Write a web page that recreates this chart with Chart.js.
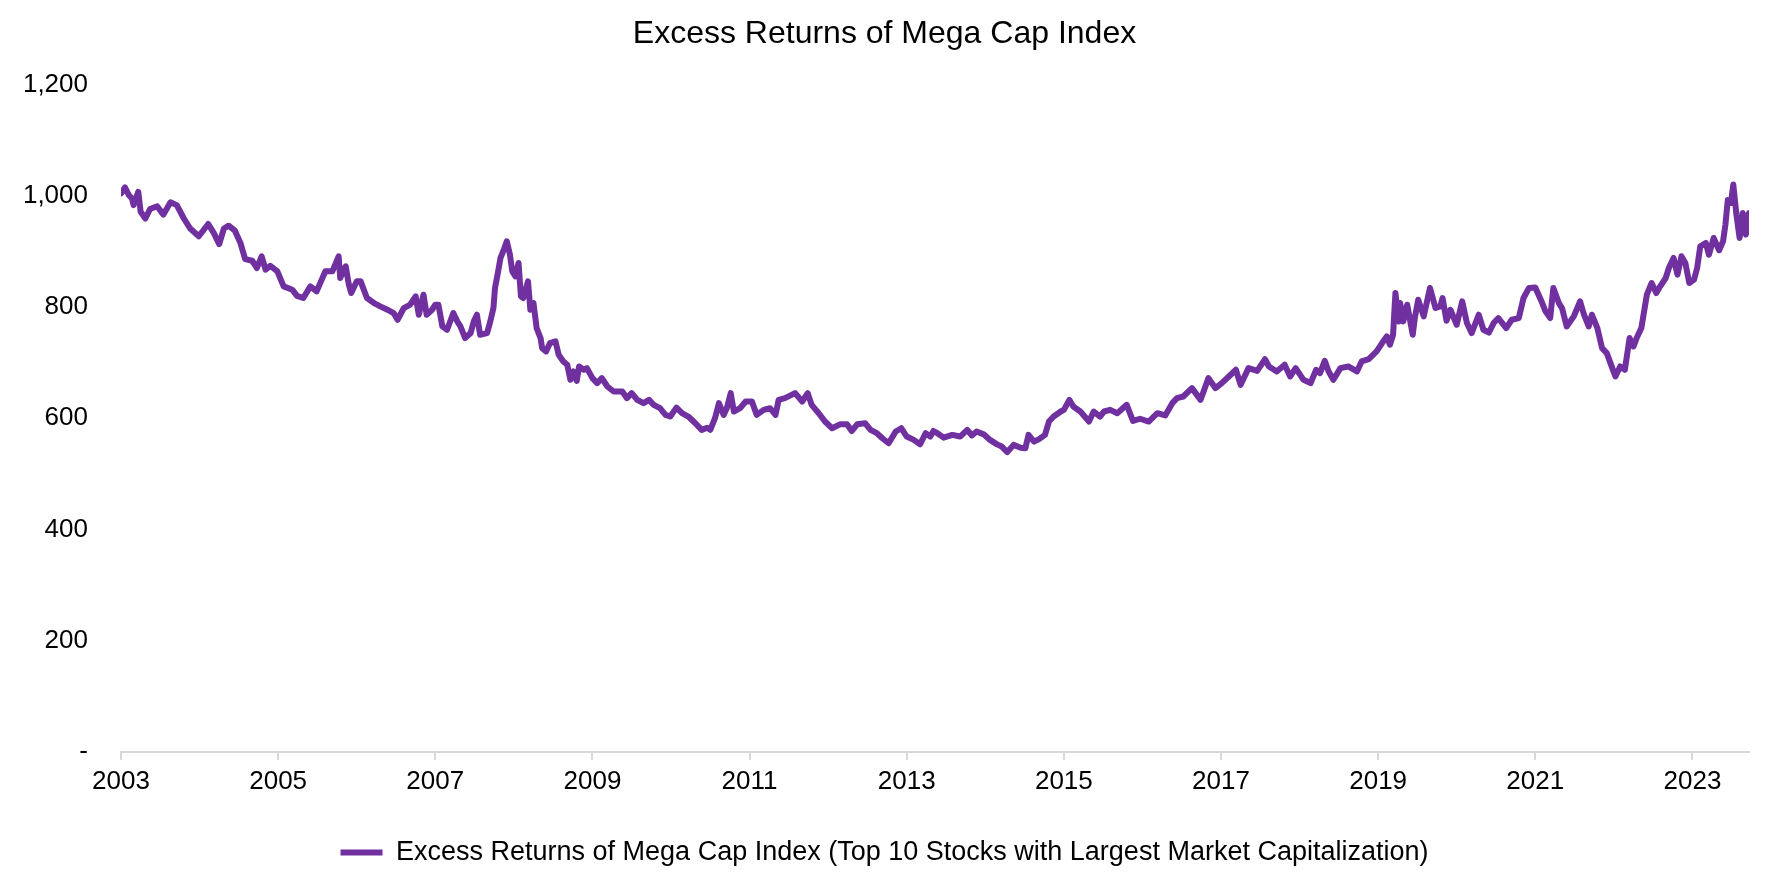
<!DOCTYPE html>
<html>
<head>
<meta charset="utf-8">
<script src="https://cdn.jsdelivr.net/npm/chart.js@4.4.1/dist/chart.umd.min.js"></script>
<style>
  html, body { margin: 0; padding: 0; background: #fff; }
  #wrap { width: 1773px; height: 886px; }
</style>
</head>
<body>
<div id="wrap"><canvas id="chart" width="1773" height="886"></canvas></div>
<script>
const chartTitle = 'Excess Returns of Mega Cap Index';
const seriesLabel = 'Excess Returns of Mega Cap Index (Top 10 Stocks with Largest Market Capitalization)';

// fractional year of each reading
const years = [
  2003.00, 2003.05, 2003.10, 2003.14, 2003.16, 2003.22, 2003.25, 2003.31, 2003.37, 2003.46,
  2003.54, 2003.63, 2003.71, 2003.80, 2003.88, 2003.99, 2004.11, 2004.18, 2004.25, 2004.31,
  2004.37, 2004.45, 2004.52, 2004.58, 2004.67, 2004.73, 2004.79, 2004.84, 2004.90, 2004.99,
  2005.07, 2005.18, 2005.24, 2005.32, 2005.41, 2005.49, 2005.60, 2005.69, 2005.77, 2005.79,
  2005.86, 2005.90, 2005.93, 2006.00, 2006.05, 2006.13, 2006.22, 2006.30, 2006.39, 2006.47,
  2006.52, 2006.60, 2006.68, 2006.75, 2006.79, 2006.85, 2006.89, 2006.96, 2007.00, 2007.04,
  2007.09, 2007.15, 2007.23, 2007.28, 2007.32, 2007.38, 2007.45, 2007.49, 2007.53, 2007.57,
  2007.66, 2007.70, 2007.74, 2007.76, 2007.80, 2007.83, 2007.87, 2007.91, 2007.95, 2007.98,
  2008.02, 2008.06, 2008.09, 2008.12, 2008.18, 2008.21, 2008.25, 2008.29, 2008.34, 2008.36,
  2008.41, 2008.46, 2008.53, 2008.57, 2008.63, 2008.68, 2008.72, 2008.76, 2008.80, 2008.83,
  2008.89, 2008.93, 2009.00, 2009.06, 2009.12, 2009.19, 2009.27, 2009.38, 2009.44, 2009.50,
  2009.57, 2009.65, 2009.72, 2009.78, 2009.86, 2009.93, 2009.99, 2010.07, 2010.14, 2010.22,
  2010.31, 2010.39, 2010.46, 2010.50, 2010.56, 2010.61, 2010.67, 2010.71, 2010.76, 2010.80,
  2010.88, 2010.95, 2011.03, 2011.09, 2011.18, 2011.26, 2011.33, 2011.37, 2011.45, 2011.58,
  2011.67, 2011.74, 2011.79, 2011.88, 2011.96, 2012.05, 2012.15, 2012.24, 2012.30, 2012.37,
  2012.47, 2012.54, 2012.62, 2012.69, 2012.77, 2012.86, 2012.93, 2013.00, 2013.09, 2013.17,
  2013.24, 2013.30, 2013.34, 2013.39, 2013.47, 2013.58, 2013.68, 2013.77, 2013.83, 2013.89,
  2013.98, 2014.06, 2014.15, 2014.21, 2014.28, 2014.36, 2014.45, 2014.51, 2014.55, 2014.62,
  2014.68, 2014.76, 2014.81, 2014.87, 2014.96, 2015.00, 2015.07, 2015.12, 2015.21, 2015.32,
  2015.38, 2015.46, 2015.51, 2015.59, 2015.68, 2015.80, 2015.88, 2015.97, 2016.08, 2016.19,
  2016.29, 2016.38, 2016.44, 2016.52, 2016.63, 2016.74, 2016.84, 2016.93, 2017.01, 2017.10,
  2017.19, 2017.25, 2017.35, 2017.46, 2017.56, 2017.61, 2017.71, 2017.81, 2017.88, 2017.95,
  2018.05, 2018.14, 2018.21, 2018.26, 2018.32, 2018.37, 2018.43, 2018.52, 2018.62, 2018.73,
  2018.79, 2018.88, 2018.98, 2019.05, 2019.11, 2019.15, 2019.19, 2019.22, 2019.26, 2019.28,
  2019.32, 2019.37, 2019.44, 2019.47, 2019.51, 2019.58, 2019.66, 2019.73, 2019.79, 2019.82,
  2019.87, 2019.92, 2020.00, 2020.07, 2020.13, 2020.19, 2020.28, 2020.34, 2020.41, 2020.47,
  2020.53, 2020.63, 2020.70, 2020.79, 2020.85, 2020.92, 2021.00, 2021.07, 2021.13, 2021.19,
  2021.23, 2021.30, 2021.34, 2021.40, 2021.49, 2021.57, 2021.62, 2021.68, 2021.72, 2021.79,
  2021.85, 2021.91, 2021.98, 2022.02, 2022.08, 2022.14, 2022.20, 2022.25, 2022.29, 2022.35,
  2022.42, 2022.48, 2022.54, 2022.59, 2022.66, 2022.70, 2022.76, 2022.81, 2022.86, 2022.91,
  2022.96, 2023.02, 2023.06, 2023.10, 2023.17, 2023.21, 2023.27, 2023.34, 2023.39, 2023.42,
  2023.45, 2023.49, 2023.52, 2023.56, 2023.60, 2023.64, 2023.68, 2023.72,
];

const indexValues = [
  1004, 1015, 1001, 995, 983, 1007, 971, 959, 976, 981,
  966, 988, 983, 959, 941, 927, 949, 933, 913, 941,
  946, 937, 915, 886, 883, 870, 891, 867, 874, 864,
  837, 831, 820, 816, 837, 828, 864, 864, 891, 852,
  873, 840, 825, 846, 846, 816, 807, 801, 795, 789,
  777, 798, 804, 819, 786, 822, 786, 795, 804, 804,
  765, 759, 789, 774, 765, 744, 753, 774, 786, 750,
  753, 774, 798, 834, 864, 888, 902, 918, 894, 864,
  855, 879, 819, 816, 846, 795, 807, 762, 744, 726,
  720, 735, 738, 714, 702, 696, 669, 684, 667, 693,
  687, 690, 672, 663, 672, 657, 648, 648, 636, 645,
  633, 627, 633, 624, 618, 606, 603, 619, 609, 603,
  591, 579, 583, 579, 600, 627, 606, 618, 645, 612,
  618, 630, 630, 606, 615, 618, 606, 633, 636, 645,
  630, 645, 624, 609, 594, 582, 589, 589, 577, 589,
  591, 579, 573, 564, 555, 576, 582, 567, 561, 553,
  573, 567, 577, 573, 565, 570, 567, 579, 569, 576,
  571, 561, 553, 549, 539, 552, 547, 546, 570, 558,
  562, 570, 594, 603, 612, 615, 633, 621, 612, 594,
  612, 603, 612, 615, 609, 624, 595, 599, 594, 609,
  605, 627, 636, 639, 654, 633, 672, 654, 663, 675,
  687, 660, 690, 685, 706, 693, 684, 696, 675, 690,
  669, 663, 687, 681, 703, 684, 669, 690, 693, 684,
  702, 706, 720, 735, 747, 732, 750, 825, 774, 807,
  774, 804, 750, 783, 813, 783, 834, 798, 801, 816,
  775, 795, 768, 810, 771, 753, 786, 759, 754, 771,
  780, 762, 777, 780, 816, 834, 835, 813, 792, 780,
  834, 807, 798, 765, 783, 810, 786, 765, 786, 762,
  726, 717, 690, 675, 693, 687, 744, 729, 744, 762,
  822, 843, 825, 837, 852, 870, 888, 858, 891, 879,
  843, 849, 870, 909, 915, 894, 924, 902, 918, 948,
  992, 987, 1020, 966, 924, 969, 930, 969,
];

const tickYears = [2003, 2005, 2007, 2009, 2011, 2013, 2015, 2017, 2019, 2021, 2023];
const yTicks = [0, 200, 400, 600, 800, 1000, 1200];

const lineColor = '#7030A0';
const axisGrey = '#d9d9d9';
const fontFamily = '"Liberation Sans", Arial, sans-serif';

const points = years.map((yr, i) => ({ x: yr, y: indexValues[i] }));

new Chart(document.getElementById('chart'), {
  type: 'line',
  data: {
    datasets: [
      {
        label: seriesLabel,
        data: points,
        borderColor: lineColor,
        backgroundColor: lineColor,
        borderWidth: 6,
        borderJoinStyle: 'round',
        borderCapStyle: 'round',
        pointRadius: 0,
        tension: 0,
        fill: false,
      },
    ],
  },
  options: {
    responsive: false,
    animation: false,
    layout: {
      padding: { left: 20, right: 24, top: 0, bottom: 10 },
    },
    plugins: {
      title: {
        display: true,
        text: chartTitle,
        color: '#000',
        font: { family: fontFamily, size: 32, weight: 'normal' },
        padding: { top: 15, bottom: 31 },
      },
      legend: {
        display: true,
        position: 'bottom',
        labels: {
          color: '#000',
          font: { family: fontFamily, size: 27 },
          boxWidth: 42,
          boxHeight: 6,
          generateLabels: (chart) =>
            chart.data.datasets.map((ds, i) => ({
              text: ds.label,
              fillStyle: ds.borderColor,
              strokeStyle: ds.borderColor,
              lineWidth: 0,
              datasetIndex: i,
            })),
        },
      },
      tooltip: { enabled: false },
    },
    scales: {
      x: {
        type: 'linear',
        min: 2003,
        max: 2023.72,
        afterBuildTicks: (axis) => {
          axis.ticks = tickYears.map((v) => ({ value: v }));
        },
        afterFit: (axis) => {
          axis.height = 77;
        },
        ticks: {
          color: '#000',
          font: { family: fontFamily, size: 26 },
          padding: 6,
          maxRotation: 0,
          autoSkip: false,
          callback: (v) => String(v),
        },
        grid: {
          drawOnChartArea: false,
          drawTicks: true,
          tickLength: 8,
          color: axisGrey,
          lineWidth: 2,
        },
        border: { display: true, color: axisGrey, width: 2 },
      },
      y: {
        type: 'linear',
        min: 0,
        max: 1200,
        afterBuildTicks: (axis) => {
          axis.ticks = yTicks.map((v) => ({ value: v }));
        },
        afterFit: (axis) => {
          axis.width = 101;
        },
        ticks: {
          color: '#000',
          font: { family: fontFamily, size: 26 },
          padding: 33,
          callback: (v) => (v === 0 ? '-' : v.toLocaleString('en-US')),
        },
        grid: { display: false, drawTicks: false },
        border: { display: false },
      },
    },
  },
});
</script>
</body>
</html>
